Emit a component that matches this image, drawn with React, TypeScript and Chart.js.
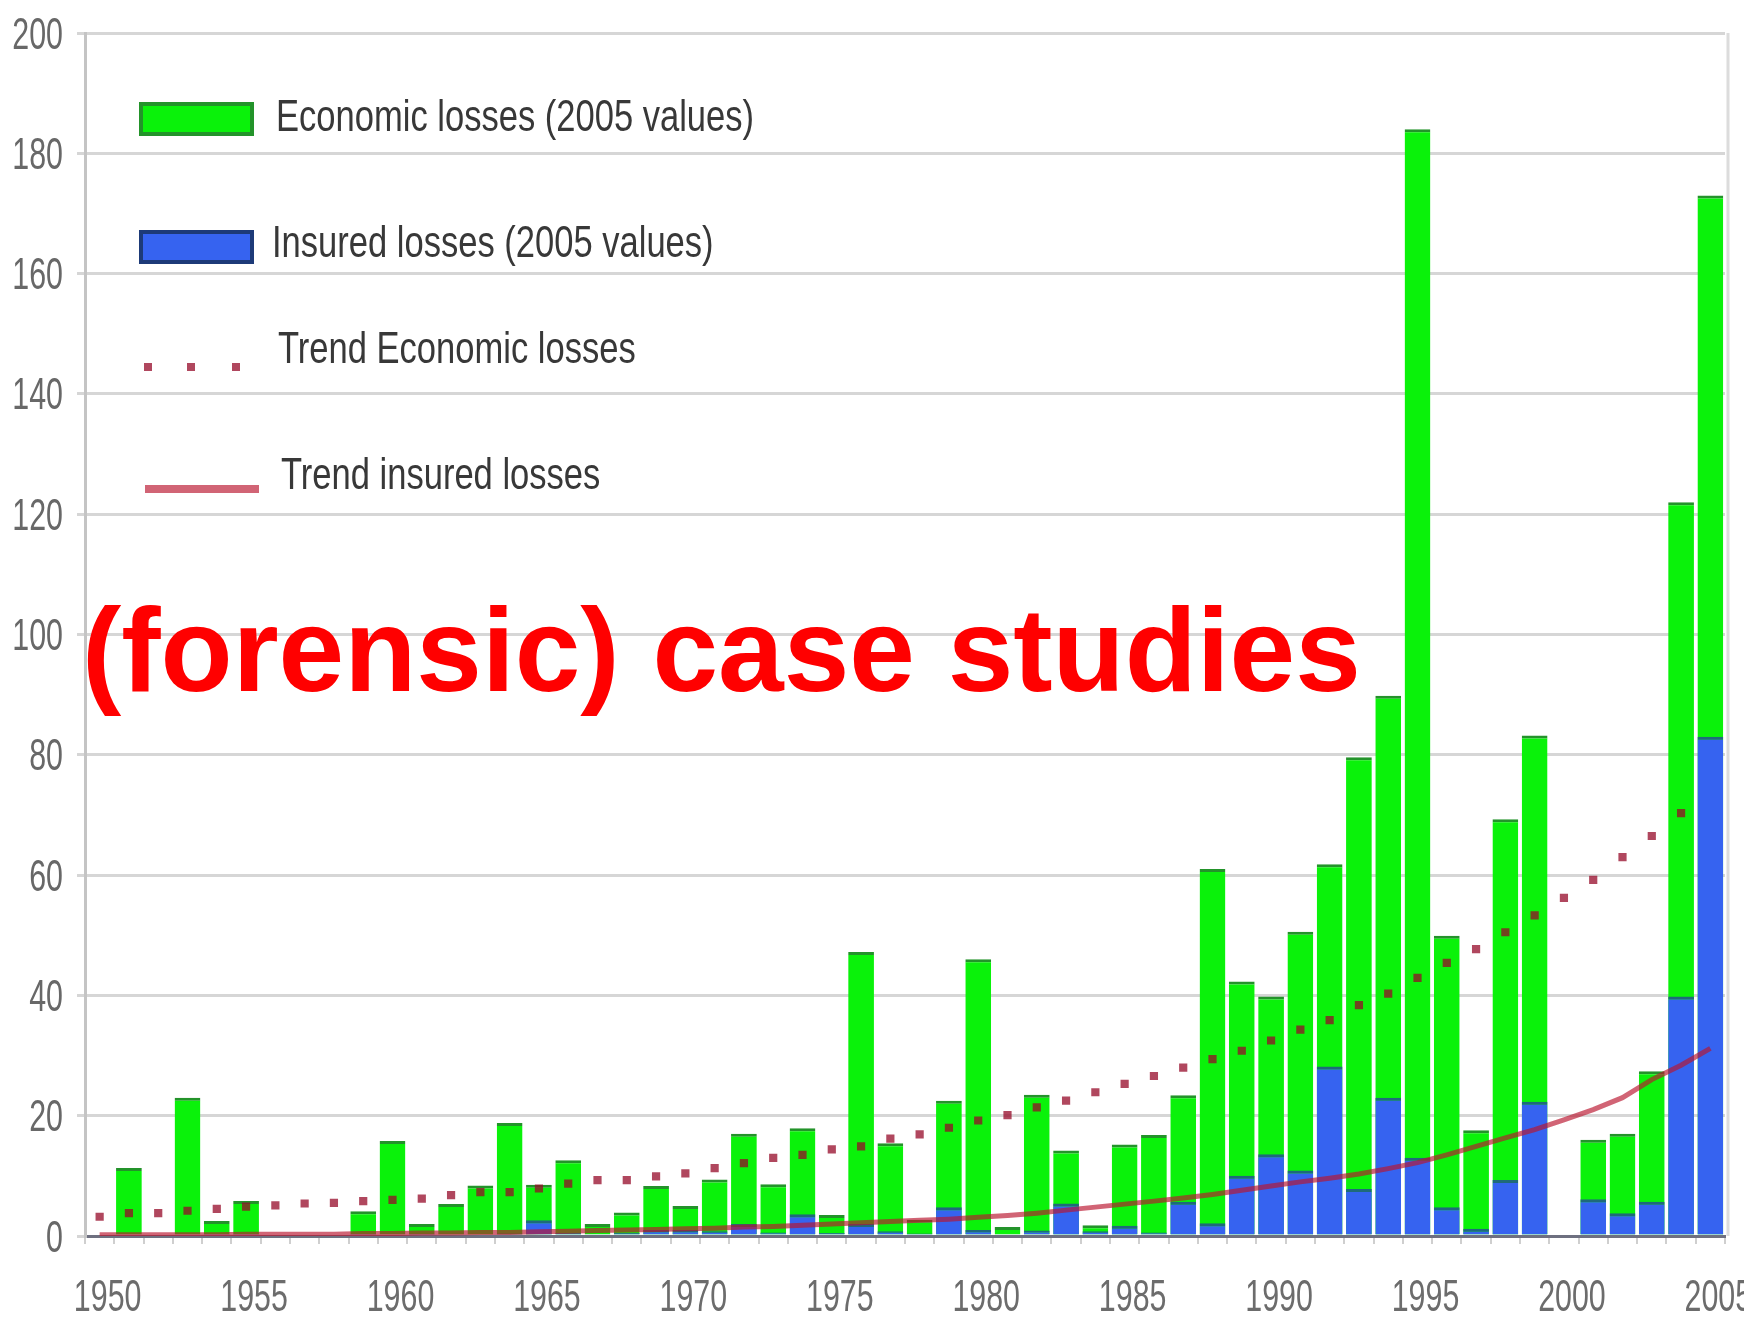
import React, { useEffect, useRef } from 'react';
import { Chart, registerables } from 'chart.js';

Chart.register(...registerables);

// ---------- data ----------
const years = [
  '1950', '1951', '1952', '1953', '1954', '1955', '1956', '1957', '1958', '1959',
  '1960', '1961', '1962', '1963', '1964', '1965', '1966', '1967', '1968', '1969',
  '1970', '1971', '1972', '1973', '1974', '1975', '1976', '1977', '1978', '1979',
  '1980', '1981', '1982', '1983', '1984', '1985', '1986', '1987', '1988', '1989',
  '1990', '1991', '1992', '1993', '1994', '1995', '1996', '1997', '1998', '1999',
  '2000', '2001', '2002', '2003', '2004', '2005',
];

const xTickLabels = ['1950', '1955', '1960', '1965', '1970', '1975', '1980', '1985', '1990', '1995', '2000', '2005'];
const yTickValues = [0, 20, 40, 60, 80, 100, 120, 140, 160, 180, 200];

const economicLosses = [
  0, 11.3, 0, 23, 2.5, 5.8, 0, 0, 0, 4.1,
  15.8, 2, 5.3, 8.4, 18.8, 8.5, 12.6, 2, 3.9, 8.3,
  5, 9.4, 17, 8.6, 17.9, 3.5, 47.2, 15.4, 2.7, 22.5,
  46, 1.5, 23.5, 14.2, 1.8, 15.2, 16.8, 23.4, 61, 42.3,
  39.8, 50.6, 61.8, 79.6, 89.8, 184, 49.9, 17.6, 69.3, 83.2,
  0, 16, 17, 27.4, 122, 173,
];

const insuredLosses = [
  0, 0.3, 0, 0.3, 0.2, 0.2, 0, 0, 0, 0.2,
  0.3, 0.2, 0.3, 0.3, 0.4, 2.6, 0.5, 0.3, 0.5, 1,
  1, 0.8, 2, 0.6, 3.6, 0.5, 2, 0.8, 0.4, 4.8,
  1, 0.3, 0.9, 5.4, 0.8, 1.7, 0.6, 5.7, 2.1, 10,
  13.6, 10.9, 28.2, 7.8, 23, 13, 4.8, 1.2, 9.3, 22.3,
  0, 6.1, 3.8, 5.7, 39.8, 83,
];

const trendEconomic = [
  3.2, 3.8, 3.8, 4.2, 4.5, 4.9, 5.1, 5.4, 5.5, 5.8,
  6, 6.2, 6.8, 7.3, 7.3, 7.9, 8.7, 9.3, 9.3, 9.9,
  10.4, 11.3, 12.1, 13, 13.5, 14.4, 14.9, 16.2, 16.9, 18,
  19.2, 20.1, 21.4, 22.5, 23.9, 25.3, 26.6, 28, 29.4, 30.8,
  32.5, 34.3, 35.9, 38.4, 40.3, 42.9, 45.4, 47.7, 50.5, 53.3,
  56.2, 59.2, 63, 66.5, 70.3, null,
];

const trendInsured = [
  0.2, 0.2, 0.2, 0.2, 0.2, 0.3, 0.3, 0.3, 0.3, 0.4,
  0.4, 0.5, 0.5, 0.6, 0.6, 0.7, 0.8, 0.9, 1, 1.1,
  1.2, 1.3, 1.5, 1.6, 1.8, 2, 2.2, 2.4, 2.6, 2.8,
  3.1, 3.4, 3.8, 4.3, 4.8, 5.3, 5.8, 6.3, 6.9, 7.6,
  8.3, 9, 9.6, 10.3, 11.2, 12.2, 13.5, 14.9, 16.3, 17.7,
  19.3, 21, 23, 26, 28.4, 31.2,
];

const seriesLabels = [
  'Economic losses (2005 values)',
  'Insured losses (2005 values)',
  'Trend Economic losses',
  'Trend insured losses',
];

// ---------- styles ----------
const GREEN = '#0af20a';
const GREEN_EDGE = '#23932a';
const BLUE = '#3663f0';
const BLUE_EDGE = '#1d3a78';
const DOT = 'rgba(150, 10, 40, 0.75)';
const LINE = 'rgba(185, 20, 45, 0.66)';
const LABEL_FONT = "44px 'Liberation Sans', Arial, sans-serif";

// condensed text helper (the reference lettering is horizontally squeezed)
function squeezedText(
  ctx: CanvasRenderingContext2D,
  text: string,
  x: number,
  y: number,
  align: 'left' | 'right' | 'center',
  squeeze: number,
  color: string,
  baseline: CanvasTextBaseline,
) {
  ctx.save();
  ctx.translate(x, y);
  ctx.scale(squeeze, 1);
  ctx.font = LABEL_FONT;
  ctx.fillStyle = color;
  ctx.textBaseline = baseline;
  ctx.textAlign = align;
  ctx.fillText(text, 0, 0);
  ctx.restore();
}

// draws the axes' tick labels (taken from the chart's own scales) in the squeezed lettering
const tickLabelPlugin = {
  id: 'squeezedTicks',
  afterDraw(chart: any) {
    const ctx = chart.ctx as CanvasRenderingContext2D;
    const xs = chart.scales.x;
    const ys = chart.scales.y;
    ys.ticks.forEach((t: any) => {
      const py = ys.getPixelForValue(t.value);
      squeezedText(ctx, String(t.value), 63, py + 15.5, 'right', 0.69, '#686868', 'alphabetic');
    });
    xs.ticks.forEach((t: any, i: number) => {
      const lab = xs.getLabelForValue(t.value);
      if (!xTickLabels.includes(lab)) return;
      const px = xs.getPixelForTick(i);
      squeezedText(ctx, lab, px + 8, xs.top + 75, 'center', 0.69, '#6c6c6c', 'alphabetic');
    });
  },
};

const legendPlugin = {
  id: 'insideLegend',
  afterDraw(chart: any) {
    const ctx = chart.ctx as CanvasRenderingContext2D;
    const ds = chart.data.datasets;
    const area = chart.chartArea;
    ctx.save();
    // right frame line
    ctx.strokeStyle = '#dcdcdc';
    ctx.lineWidth = 3;
    ctx.beginPath();
    ctx.moveTo(area.right + 3, area.top);
    ctx.lineTo(area.right + 3, area.bottom);
    ctx.stroke();

    // economic box
    ctx.fillStyle = ds[0].backgroundColor;
    ctx.fillRect(139, 102, 115, 34);
    ctx.strokeStyle = GREEN_EDGE;
    ctx.lineWidth = 4;
    ctx.strokeRect(141, 104, 111, 30);
    squeezedText(ctx, ds[0].label, 276, 119, 'left', 0.785, '#383838', 'middle');

    // insured box
    ctx.fillStyle = ds[1].backgroundColor;
    ctx.fillRect(139, 230, 115, 34);
    ctx.strokeStyle = BLUE_EDGE;
    ctx.lineWidth = 4;
    ctx.strokeRect(141, 232, 111, 30);
    squeezedText(ctx, ds[1].label, 272, 245, 'left', 0.785, '#383838', 'middle');

    // trend economic dots
    ctx.fillStyle = DOT;
    [148, 191, 236].forEach((x) => ctx.fillRect(x - 4, 367 - 4, 8, 8));
    squeezedText(ctx, ds[3].label, 278, 351, 'left', 0.785, '#383838', 'middle');

    // trend insured line
    ctx.strokeStyle = LINE;
    ctx.lineWidth = 8;
    ctx.beginPath();
    ctx.moveTo(145, 489);
    ctx.lineTo(259, 489);
    ctx.stroke();
    squeezedText(ctx, ds[2].label, 281, 477, 'left', 0.785, '#383838', 'middle');
    ctx.restore();
  },
};

export default function App() {
  const canvasRef = useRef<HTMLCanvasElement | null>(null);

  useEffect(() => {
    const canvas = canvasRef.current;
    if (!canvas) return;
    const chart = new Chart(canvas, {
      type: 'bar',
      data: {
        labels: years,
        datasets: [
          {
            type: 'bar',
            label: seriesLabels[0],
            data: economicLosses,
            backgroundColor: GREEN,
            borderColor: GREEN_EDGE,
            borderWidth: { top: 3, left: 0, right: 0, bottom: 0 },
            grouped: false,
            barPercentage: 0.88,
            categoryPercentage: 1,
            order: 3,
          } as any,
          {
            type: 'bar',
            label: seriesLabels[1],
            data: insuredLosses,
            backgroundColor: BLUE,
            borderColor: '#1f6a7a',
            borderWidth: { top: 3, left: 0, right: 0, bottom: 0 },
            grouped: false,
            barPercentage: 0.88,
            categoryPercentage: 1,
            order: 2,
          } as any,
          {
            type: 'line',
            label: seriesLabels[3],
            data: trendInsured,
            borderColor: LINE,
            borderWidth: 5,
            pointRadius: 0,
            fill: false,
            order: 1,
          } as any,
          {
            type: 'line',
            label: seriesLabels[2],
            data: trendEconomic,
            showLine: false,
            pointStyle: 'rect',
            pointRadius: 5.8,
            pointBackgroundColor: DOT,
            pointBorderWidth: 0,
            backgroundColor: DOT,
            borderColor: DOT,
            order: 0,
          } as any,
        ],
      },
      options: {
        responsive: false,
        animation: false,
        devicePixelRatio: 1,
        layout: { padding: { top: 33, right: 75, left: 0, bottom: 0 } },
        plugins: {
          legend: { display: false },
          tooltip: { enabled: false },
        },
        scales: {
          x: {
            type: 'category',
            offset: true,
            afterFit: (s: any) => { s.height = 82; },
            grid: {
              display: true,
              offset: true,
              drawOnChartArea: false,
              drawTicks: true,
              tickLength: 8,
              color: '#cfcfcf',
              lineWidth: 2,
            },
            border: { display: true, color: '#6e7080', width: 3 },
            ticks: { display: false, autoSkip: false },
          },
          y: {
            min: yTickValues[0],
            max: yTickValues[yTickValues.length - 1],
            afterFit: (s: any) => { s.width = 85; },
            afterBuildTicks: (s: any) => { s.ticks = yTickValues.map((v) => ({ value: v })); },
            grid: {
              color: '#d6d6d6',
              lineWidth: 3,
              tickLength: 8,
              drawTicks: true,
            },
            border: { display: true, color: '#c4c4c4', width: 3 },
            ticks: { display: false },
          },
        },
      },
      plugins: [legendPlugin, tickLabelPlugin],
    });
    return () => chart.destroy();
  }, []);

  return (
    <div
      style={{
        position: 'absolute',
        left: 0,
        top: 0,
        width: 1744,
        height: 1318,
        overflow: 'hidden',
        background: '#ffffff',
      }}
    >
      <canvas ref={canvasRef} width={1800} height={1318} style={{ display: 'block' }} />
      <div
        style={{
          position: 'absolute',
          left: 82,
          top: 591,
          margin: 0,
          fontFamily: "'Liberation Sans', Arial, sans-serif",
          fontWeight: 'bold',
          fontSize: 118,
          lineHeight: '118px',
          color: '#ff0000',
          whiteSpace: 'nowrap',
        }}
      >
        (forensic) case studies
      </div>
    </div>
  );
}
